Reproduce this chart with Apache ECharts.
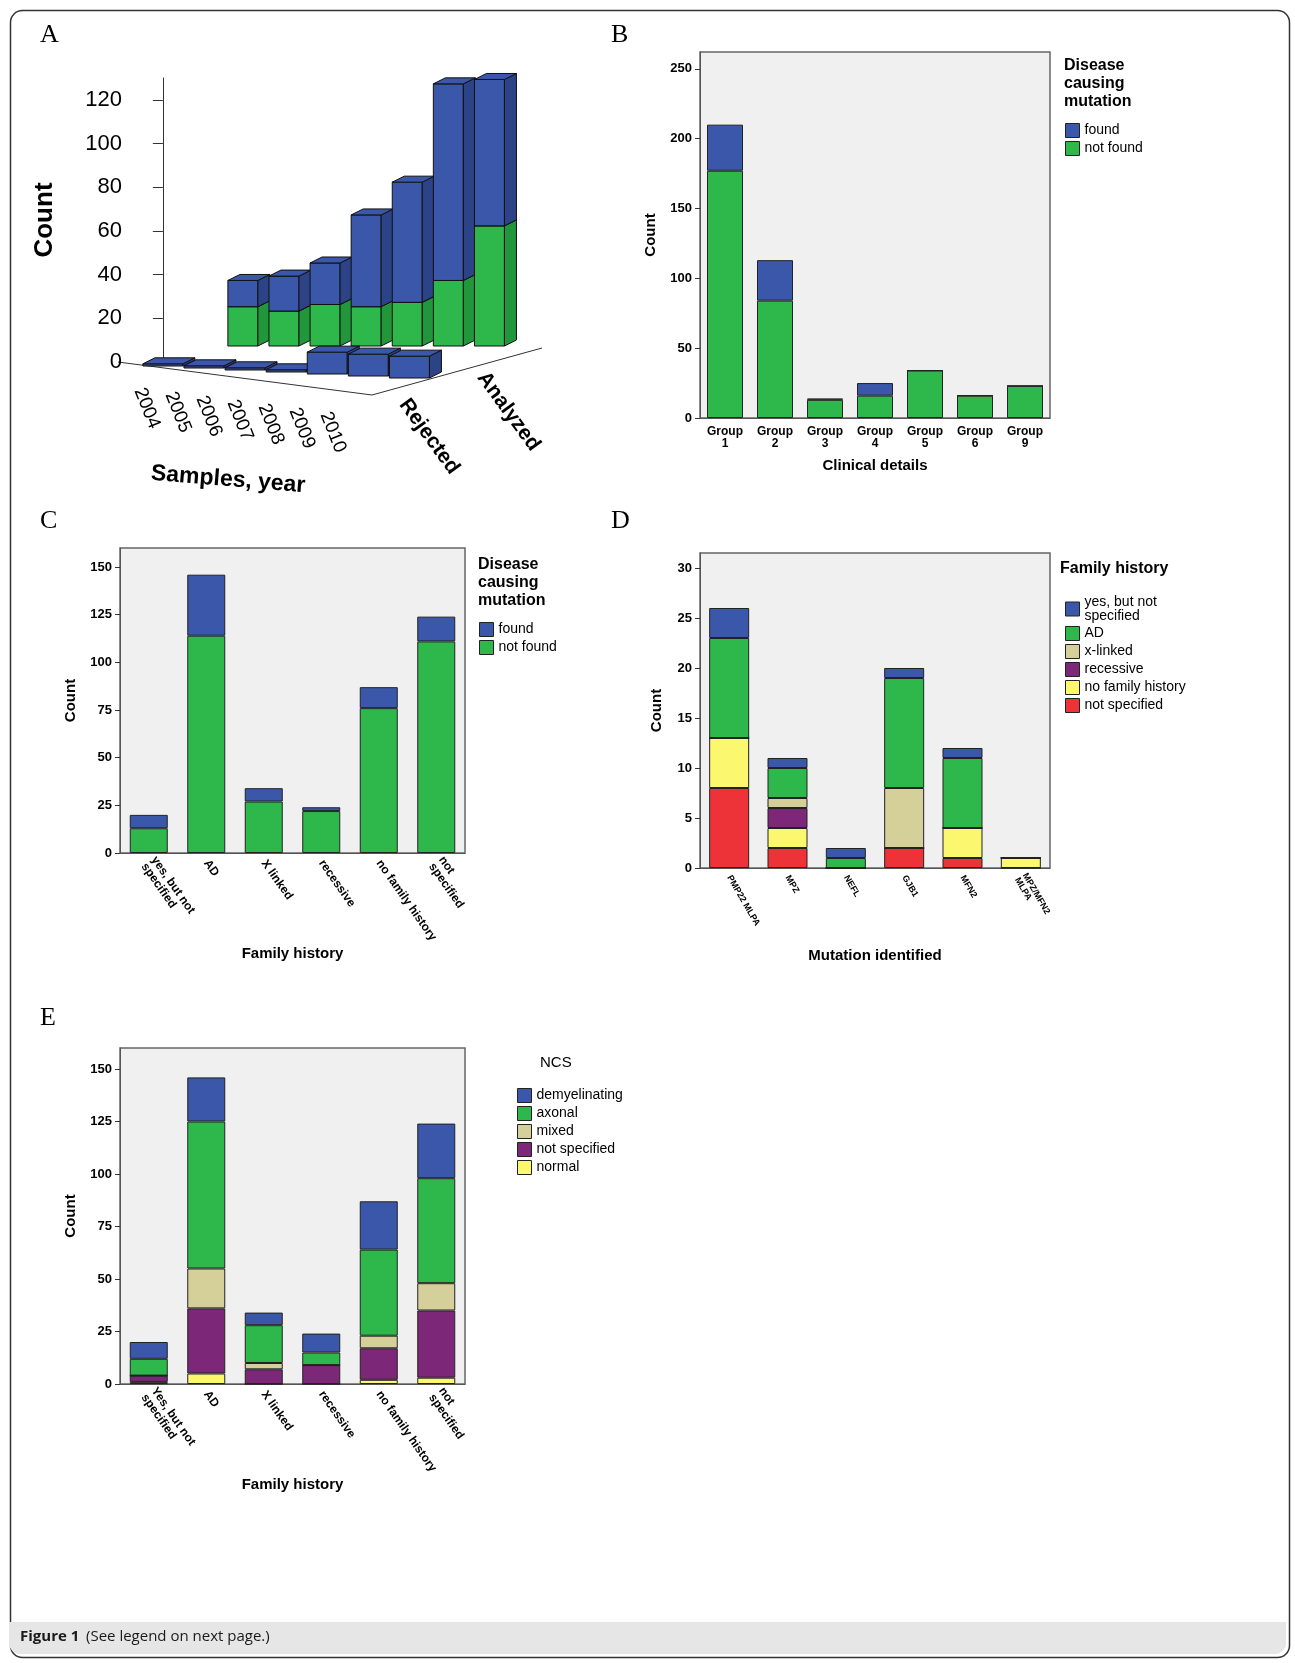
<!DOCTYPE html>
<html>
<head>
<meta charset="utf-8">
<script src="https://cdn.jsdelivr.net/npm/echarts@6/dist/echarts.min.js"></script>
<style>
  html, body { margin: 0; padding: 0; background: #fff; }
  #chart { width: 1295px; height: 1663px; }
</style>
</head>
<body>
<div id="chart"></div>
<script>
// ---- data ----
const yearsA = ['2004', '2005', '2006', '2007', '2008', '2009', '2010'];
const analyzedGreen = [18, 16, 19, 18, 20, 30, 55];
const analyzedTotal = [30, 32, 38, 60, 75, 120, 122];
const rejectedTotal = [1, 1, 1, 1, 10, 10, 10];

const groupsB = ['Group\n1', 'Group\n2', 'Group\n3', 'Group\n4', 'Group\n5', 'Group\n6', 'Group\n9'];
const notFoundB = [177, 84, 13, 16, 34, 16, 23];
const foundB = [33, 29, 1, 9, 0, 0, 0];

const historyC = ['yes, but not\nspecified', 'AD', 'X linked', 'recessive', 'no family history', 'not\nspecified'];
const notFoundC = [13, 114, 27, 22, 76, 111];
const foundC = [7, 32, 7, 2, 11, 13];

const mutD = ['PMP22 MLPA', 'MPZ', 'NEFL', 'GJB1', 'MFN2', 'MPZ/MFN2\nMLPA'];
const dNotSpec = [8, 2, 0, 2, 1, 0];
const dNoFam = [5, 2, 0, 0, 3, 1];
const dRecessive = [0, 2, 0, 0, 0, 0];
const dXlinked = [0, 1, 0, 6, 0, 0];
const dAD = [10, 3, 1, 11, 7, 0];
const dYes = [3, 1, 1, 1, 1, 0];

const historyE = ['Yes, but not\nspecified', 'AD', 'X linked', 'recessive', 'no family history', 'not\nspecified'];
const eNormal = [1, 5, 0, 0, 2, 3];
const eNotSpec = [3, 31, 7, 9, 15, 32];
const eMixed = [0, 19, 3, 0, 6, 13];
const eAxonal = [8, 70, 18, 6, 41, 50];
const eDemy = [8, 21, 6, 9, 23, 26];

const BLUE = '#3b57a9', GREEN = '#2eb84b', TAN = '#d5cf9a', PURPLE = '#7d2778', YELLOW = '#fbf870', RED = '#ee3338';
const DKBLUE = '#2c4387', DKGREEN = '#22963a';
const FONT = '"Liberation Sans", Arial, sans-serif';

// ---- panel A pseudo 3D data ----
const boxes = [];
yearsA.forEach((y, i) => {
  boxes.push([i, 0, analyzedGreen[i], 1, GREEN]);
  boxes.push([i, analyzedGreen[i], analyzedTotal[i], 1, BLUE]);
});
yearsA.forEach((y, i) => {
  boxes.push([i, 0, rejectedTotal[i], 0, BLUE]);
});

function renderBox(params, api) {
  const i = api.value(0), lo = api.value(1), hi = api.value(2), row = api.value(3);
  const color = boxes[params.dataIndex][4];
  const p0 = api.coord([i, lo]), p1 = api.coord([i, hi]);
  const w = row ? 30 : 40;
  const ox = row ? 80 : 0, oy = row ? -16 : 4 + i * 2;
  const dx = 12, dy = -6;
  const x0 = p0[0] - w / 2 + ox, x1 = x0 + w;
  const yb = p0[1] + oy, yt = p1[1] + oy;
  const side = color === GREEN ? DKGREEN : DKBLUE;
  const st = { stroke: '#111', lineWidth: 1 };
  return {
    type: 'group',
    children: [
      { type: 'polygon', shape: { points: [[x0, yb], [x1, yb], [x1, yt], [x0, yt]] }, style: Object.assign({ fill: color }, st) },
      { type: 'polygon', shape: { points: [[x1, yb], [x1 + dx, yb + dy], [x1 + dx, yt + dy], [x1, yt]] }, style: Object.assign({ fill: side }, st) },
      { type: 'polygon', shape: { points: [[x0, yt], [x1, yt], [x1 + dx, yt + dy], [x0 + dx, yt + dy]] }, style: Object.assign({ fill: color }, st) }
    ]
  };
}

const chart = echarts.init(document.getElementById('chart'));

const axisTxt = { color: '#000', fontFamily: FONT, fontSize: 12 };
const nameTxt = { color: '#000', fontFamily: FONT, fontSize: 15, fontWeight: 'bold' };

function catAxis(gi, data, rotate, name, gap, extra) {
  return Object.assign({
    type: 'category', gridIndex: gi, data: data,
    name: name, nameLocation: 'middle', nameGap: gap, nameTextStyle: nameTxt,
    axisLine: { lineStyle: { color: '#555' } },
    axisTick: { alignWithLabel: true, lineStyle: { color: '#333' } },
    axisLabel: Object.assign({ interval: 0, rotate: rotate }, axisTxt, { fontWeight: 'bold', fontSize: 12 })
  }, extra || {});
}
function valAxis(gi, max, interval, gap) {
  return {
    type: 'value', gridIndex: gi, min: 0, max: max, interval: interval,
    name: 'Count', nameLocation: 'middle', nameGap: gap, nameTextStyle: nameTxt,
    axisLine: { show: true, lineStyle: { color: '#555' } },
    axisTick: { show: true, lineStyle: { color: '#333' } },
    splitLine: { show: false },
    axisLabel: Object.assign({ showMaxLabel: false }, axisTxt, { fontWeight: 'bold', fontSize: 13 })
  };
}
function bar(name, data, x, y, color, width) {
  return {
    name: name, type: 'bar', stack: 's' + x, xAxisIndex: x, yAxisIndex: y,
    data: data, barWidth: width, itemStyle: { color: color, borderColor: '#222', borderWidth: 1 },
    emphasis: { disabled: true }
  };
}
const gridBg = { show: true, backgroundColor: '#f0f0f0', borderColor: '#666', borderWidth: 1.5 };
const letter = (t, x, y) => ({ type: 'text', left: x, top: y, style: { text: t, font: '26px "Liberation Serif", serif', fill: '#000' } });
const legTitle = (t, x, y) => ({ type: 'text', left: x, top: y, style: { text: t, font: 'bold 16px ' + FONT, fill: '#000', lineHeight: 18 } });
const legTxt = { color: '#000', fontFamily: FONT, fontSize: 14 };
function legend(data, left, top) {
  return { data: data, orient: 'vertical', left: left, top: top, itemWidth: 14, itemHeight: 14, itemGap: 3,
    icon: 'rect', textStyle: legTxt, selectedMode: false, itemStyle: { borderColor: '#222', borderWidth: 1 } };
}

chart.setOption({
  animation: false,
  grid: [
    { left: 130, top: 78, width: 300, height: 284 },
    Object.assign({ left: 700, top: 52, width: 350, height: 366 }, gridBg),
    Object.assign({ left: 120, top: 548, width: 345, height: 305 }, gridBg),
    Object.assign({ left: 700, top: 553, width: 350, height: 315 }, gridBg),
    Object.assign({ left: 120, top: 1048, width: 345, height: 336 }, gridBg)
  ],
  xAxis: [
    { type: 'value', gridIndex: 0, min: -0.8, max: 6.5, show: true,
      axisLine: { show: false }, axisTick: { show: false }, axisLabel: { show: false }, splitLine: { show: false } },
    catAxis(1, groupsB, 0, 'Clinical details', 40),
    catAxis(2, historyC, -55, 'Family history', 90),
    catAxis(3, mutD, -60, 'Mutation identified', 80, { axisLabel: Object.assign({ interval: 0, rotate: -60 }, axisTxt, { fontSize: 9, fontWeight: 'bold' }) }),
    catAxis(4, historyE, -55, 'Family history', 90)
  ],
  yAxis: [
    { type: 'value', gridIndex: 0, min: 0, max: 130, interval: 20,
      name: 'Count', nameLocation: 'middle', nameGap: 72,
      nameTextStyle: { color: '#000', fontFamily: FONT, fontSize: 26, fontWeight: 'bold' },
      axisLine: { show: true, lineStyle: { color: '#333' } }, axisTick: { show: true, length: 10, lineStyle: { color: '#333' } },
      splitLine: { show: false },
      axisLabel: { showMaxLabel: false, color: '#000', fontFamily: FONT, fontSize: 22 } },
    valAxis(1, 262, 50, 42),
    valAxis(2, 160, 25, 42),
    valAxis(3, 31.5, 5, 36),
    valAxis(4, 160, 25, 42)
  ],
  legend: [
    legend(['found', 'not found'], 1060, 118),
    legend(['found ', 'not found '], 474, 617),
    legend(['yes, but not\nspecified', 'AD', 'x-linked', 'recessive', 'no family history', 'not specified'], 1060, 590),
    legend(['demyelinating', 'axonal', 'mixed', 'not specified ', 'normal'], 512, 1083)
  ],
  series: [
    { type: 'custom', xAxisIndex: 0, yAxisIndex: 0, renderItem: renderBox,
      data: boxes.map(b => b.slice(0, 4)), encode: { x: 0, y: [1, 2] } },
    bar('not found', notFoundB, 1, 1, GREEN, 36),
    bar('found', foundB, 1, 1, BLUE, 36),
    bar('not found ', notFoundC, 2, 2, GREEN, 38),
    bar('found ', foundC, 2, 2, BLUE, 38),
    bar('not specified', dNotSpec, 3, 3, RED, 40),
    bar('no family history', dNoFam, 3, 3, YELLOW, 40),
    bar('recessive', dRecessive, 3, 3, PURPLE, 40),
    bar('x-linked', dXlinked, 3, 3, TAN, 40),
    bar('AD', dAD, 3, 3, GREEN, 40),
    bar('yes, but not\nspecified', dYes, 3, 3, BLUE, 40),
    bar('normal', eNormal, 4, 4, YELLOW, 38),
    bar('not specified ', eNotSpec, 4, 4, PURPLE, 38),
    bar('mixed', eMixed, 4, 4, TAN, 38),
    bar('axonal', eAxonal, 4, 4, GREEN, 38),
    bar('demyelinating', eDemy, 4, 4, BLUE, 38)
  ],
  graphic: [
    { type: 'rect', left: 8, top: 8, shape: { width: 1279, height: 1647, r: 12 }, style: { fill: 'none', stroke: '#333', lineWidth: 1.5 } },
    { type: 'rect', left: 9, top: 1622, shape: { width: 1277, height: 32, r: [0, 0, 11, 11] }, style: { fill: '#e6e6e6' } },
    { type: 'text', left: 20, top: 1629, style: { text: 'Figure 1', font: 'bold 15px "Open Sans", Arial', fill: '#1a1a1a' } },
    { type: 'text', left: 86, top: 1629, style: { text: '(See legend on next page.)', font: '15px "Open Sans", Arial', fill: '#1a1a1a' } },
    letter('A', 40, 22), letter('B', 611, 22), letter('C', 40, 508), letter('D', 611, 508), letter('E', 40, 1005),
    legTitle('Disease\ncausing\nmutation', 1064, 57),
    legTitle('Disease\ncausing\nmutation', 478, 556),
    legTitle('Family history', 1060, 560),
    { type: 'text', left: 540, top: 1055, style: { text: 'NCS', font: '15px ' + FONT, fill: '#000' } },
    // floor lines of panel A
    { type: 'polyline', shape: { points: [[118, 362], [372, 395], [542, 348]] }, style: { stroke: '#333', lineWidth: 1, fill: 'none' } },
    { type: 'text', x: 412, y: 395, rotation: -Math.PI * 0.3, style: { text: 'Rejected', font: 'bold 21px ' + FONT, fill: '#000' } },
    { type: 'text', x: 490, y: 368, rotation: -Math.PI * 0.3, style: { text: 'Analyzed', font: 'bold 21px ' + FONT, fill: '#000' } },
    { type: 'text', x: 152, y: 462, rotation: -0.08, style: { text: 'Samples, year', font: 'bold 23px ' + FONT, fill: '#000' } }
  ].concat(yearsA.map((y, i) => ({
    type: 'text', x: 148 + i * 31, y: 385 + i * 4, rotation: -Math.PI * 0.38,
    style: { text: y, font: '19px ' + FONT, fill: '#000' }
  })))
});
</script>
</body>
</html>
